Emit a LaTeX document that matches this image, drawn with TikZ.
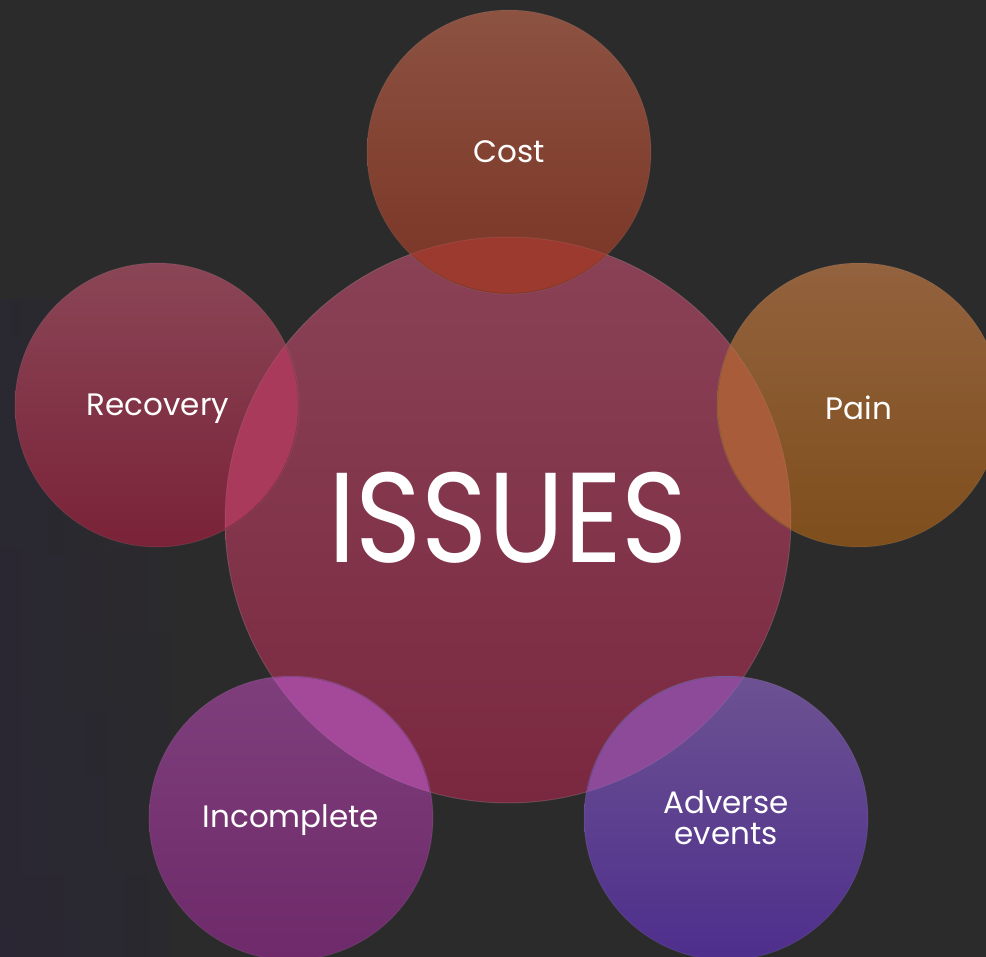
\documentclass[tikz,border=0pt]{standalone}
\usepackage{fontspec}
\setmainfont{Poppins}
\usetikzlibrary{shadings}
\definecolor{bg}{HTML}{2B2B2B}
\definecolor{bgL}{HTML}{2A2734}
\definecolor{cenT}{HTML}{8A4256}\definecolor{cenB}{HTML}{7A2840}
\definecolor{costT}{HTML}{8C5242}\definecolor{costB}{HTML}{7A3424}\definecolor{costO}{HTML}{9C3A30}
\definecolor{painT}{HTML}{93623E}\definecolor{painB}{HTML}{7E4E1C}\definecolor{painO}{HTML}{A85C3A}
\definecolor{recT}{HTML}{8A4656}\definecolor{recB}{HTML}{7A2238}\definecolor{recO}{HTML}{AA3A5C}
\definecolor{incT}{HTML}{7E3E7C}\definecolor{incB}{HTML}{6E2A6A}\definecolor{incO}{HTML}{A4489A}
\definecolor{advT}{HTML}{6C5292}\definecolor{advB}{HTML}{4E2E8C}\definecolor{advO}{HTML}{8C4A98}
\tikzset{
  bubble/.style={circle, inner sep=0pt, draw=white, draw opacity=0.07, line width=1pt, shading=axis, shading angle=0},
  lbl/.style={text=white, align=center, font=\fontsize{31}{35}\selectfont},
}
\begin{document}
\begin{tikzpicture}[x=1pt,y=-1pt]
\useasboundingbox (0,0) rectangle (986,957);
\fill[bg] (0,0) rectangle (986,957);
\shade[top color=bg, bottom color=bgL] (0,300) rectangle (170,957);
\shade[left color=bgL, right color=bg, fill opacity=0.6] (0,300) rectangle (170,957);
% centre
\node[bubble, minimum size=566pt, top color=cenT, bottom color=cenB] (issues) at (508,520) {};
% satellites
\node[bubble, minimum size=284pt, top color=costT, bottom color=costB] (cost) at (509,152) {};
\node[bubble, minimum size=284pt, top color=painT, bottom color=painB] (pain) at (859,405) {};
\node[bubble, minimum size=284pt, top color=recT, bottom color=recB] (rec) at (157,405) {};
\node[bubble, minimum size=284pt, top color=incT, bottom color=incB] (inc) at (291,818) {};
\node[bubble, minimum size=284pt, top color=advT, bottom color=advB] (adv) at (726,818) {};
% overlaps
\begin{scope}
\clip (508,520) circle (283);
\fill[costO] (509,152) circle (141);
\fill[painO] (859,405) circle (141);
\fill[recO] (157,405) circle (141);
\fill[incO] (291,818) circle (141);
\fill[advO] (726,818) circle (141);
\end{scope}
\draw[white, opacity=0.07, line width=1pt] (508,520) circle (283);
% labels
\node[lbl] (costl) at (509,152) {Cost};
\node[lbl] (painl) at (859,408) {Pain};
\node[lbl] (recl) at (158,409) {Recovery};
\node[lbl] (incl) at (291,820) {Incomplete};
\node[lbl] (advl) at (726,818) {Adverse\\[-4pt]events};
\node[text=white, font=\fontsize{128}{130}\selectfont] (issuesl) at (508,518) {\scalebox{0.88}[1]{ISSUES}};
\end{tikzpicture}
\end{document}
